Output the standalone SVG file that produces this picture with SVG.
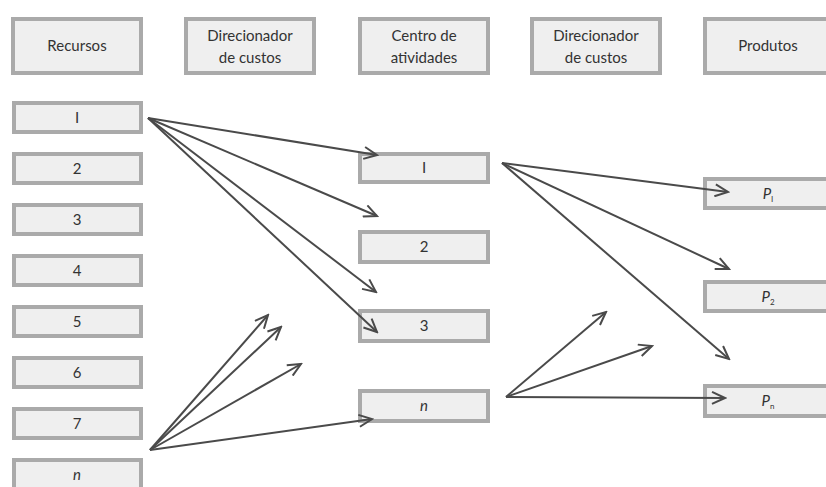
<svg xmlns="http://www.w3.org/2000/svg" width="826" height="487" viewBox="0 0 826 487">
<style>
.box{fill:#efefef;stroke:#aaaaaa;stroke-width:4}
.t{font-family:Lato,"Open Sans","Liberation Sans",sans-serif;font-size:15px;fill:#333;text-anchor:middle}
.i{font-style:italic}
.sub{font-size:8px}
.c line{stroke:#4a4a4a;stroke-width:2;marker-end:url(#ah)}
</style>
<defs>
<marker id="ah" markerUnits="userSpaceOnUse" markerWidth="16" markerHeight="14" refX="14" refY="7" orient="auto">
<path d="M1,1 L14,7 L1,13" fill="none" stroke="#4a4a4a" stroke-width="2"/>
</marker>
</defs>
<rect width="826" height="487" fill="#fff"/>
<g id="h-recursos"><rect class="box" x="13" y="19" width="128" height="54"/><text class="t" x="77" y="51">Recursos</text></g>
<g id="h-dir1"><rect class="box" x="186" y="19" width="128" height="54"/><text class="t" x="250" y="41">Direcionador</text><text class="t" x="250" y="63">de custos</text></g>
<g id="h-centro"><rect class="box" x="360" y="19" width="128" height="54"/><text class="t" x="424" y="41">Centro de</text><text class="t" x="424" y="63">atividades</text></g>
<g id="h-dir2"><rect class="box" x="532" y="19" width="128" height="54"/><text class="t" x="596" y="41">Direcionador</text><text class="t" x="596" y="63">de custos</text></g>
<g id="h-produtos"><rect class="box" x="705" y="19" width="128" height="54"/><text class="t" x="768" y="51">Produtos</text></g>

<g id="r1"><rect class="box" x="14" y="103" width="127" height="29"/><text class="t" x="77" y="123">I</text></g>
<g id="r2"><rect class="box" x="14" y="154" width="127" height="29"/><text class="t" x="77" y="174">2</text></g>
<g id="r3"><rect class="box" x="14" y="205" width="127" height="29"/><text class="t" x="77" y="225">3</text></g>
<g id="r4"><rect class="box" x="14" y="256" width="127" height="29"/><text class="t" x="77" y="276">4</text></g>
<g id="r5"><rect class="box" x="14" y="307" width="127" height="29"/><text class="t" x="77" y="327">5</text></g>
<g id="r6"><rect class="box" x="14" y="358" width="127" height="29"/><text class="t" x="77" y="378">6</text></g>
<g id="r7"><rect class="box" x="14" y="409" width="127" height="29"/><text class="t" x="77" y="429">7</text></g>
<g id="rn"><rect class="box" x="14" y="460" width="127" height="29"/><text class="t i" x="77" y="480">n</text></g>

<g id="a1"><rect class="box" x="360" y="154" width="128" height="28"/><text class="t" x="424" y="173">I</text></g>
<g id="a2"><rect class="box" x="360" y="232" width="128" height="30"/><text class="t" x="424" y="252">2</text></g>
<g id="a3"><rect class="box" x="360" y="311" width="128" height="30"/><text class="t" x="424" y="331">3</text></g>
<g id="an"><rect class="box" x="360" y="391" width="128" height="30"/><text class="t i" x="424" y="411">n</text></g>

<g id="p1"><rect class="box" x="705" y="179" width="128" height="29"/><text class="t i" x="768" y="199">P<tspan class="sub" font-style="normal" dy="3">I</tspan></text></g>
<g id="p2"><rect class="box" x="705" y="282" width="128" height="29"/><text class="t i" x="768" y="302">P<tspan class="sub" font-style="normal" dy="3">2</tspan></text></g>
<g id="pn"><rect class="box" x="705" y="386" width="128" height="30"/><text class="t i" x="768" y="406">P<tspan class="sub" font-style="normal" dy="3">n</tspan></text></g>

<g id="connectors" class="c">
<line x1="148" y1="118" x2="377" y2="155"/>
<line x1="148" y1="118" x2="377" y2="216"/>
<line x1="148" y1="118" x2="376" y2="292"/>
<line x1="148" y1="118" x2="377" y2="332"/>
<line x1="150" y1="450" x2="268" y2="315"/>
<line x1="150" y1="450" x2="281" y2="327"/>
<line x1="150" y1="450" x2="301" y2="364"/>
<line x1="150" y1="450" x2="372" y2="419"/>
<line x1="502" y1="163" x2="728" y2="192"/>
<line x1="502" y1="163" x2="729" y2="269"/>
<line x1="502" y1="163" x2="729" y2="359"/>
<line x1="506" y1="397" x2="606" y2="312"/>
<line x1="506" y1="397" x2="652" y2="346"/>
<line x1="506" y1="397" x2="725" y2="398"/>
</g>
</svg>
